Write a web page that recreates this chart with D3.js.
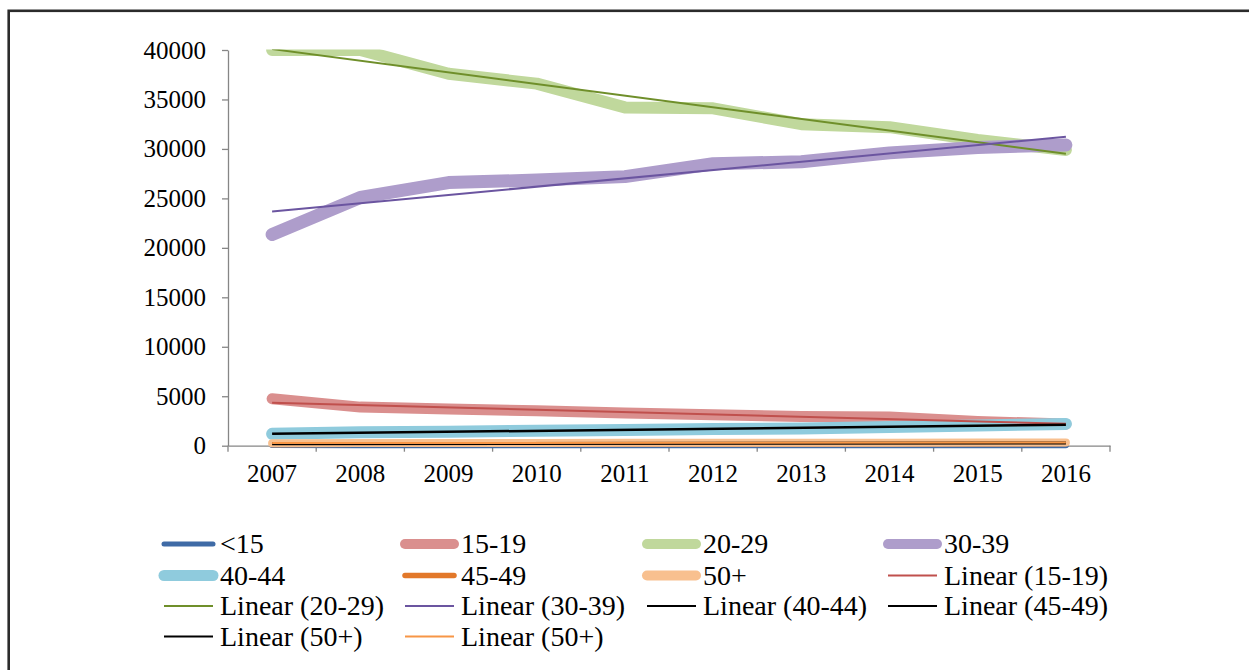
<!DOCTYPE html>
<html>
<head>
  <meta charset="UTF-8">
  <title>Births by age group</title>
  <script src="https://d3js.org/d3.v7.min.js"></script>
  <style>
    body { margin: 0; background: #fff; }
  </style>
</head>
<body>
  <div id="chart"></div>

  <script>
    const years = ["2007", "2008", "2009", "2010", "2011", "2012", "2013", "2014", "2015", "2016"];
    const yTicks = [0, 5000, 10000, 15000, 20000, 25000, 30000, 35000, 40000];

    const under15 = [60, 55, 50, 50, 45, 45, 40, 40, 40, 35];
    const age15to19 = [4750, 3900, 3700, 3530, 3300, 3130, 2960, 2900, 2450, 2190];
    const age20to29 = [40000, 40000, 37600, 36600, 34200, 34100, 32500, 32200, 30900, 29900];
    const age30to39 = [21350, 25100, 26600, 26850, 27200, 28500, 28700, 29600, 30150, 30400];
    const age40to44 = [1200, 1350, 1420, 1500, 1580, 1680, 1750, 1880, 2050, 2200];
    const age45to49 = [150, 160, 170, 175, 185, 195, 200, 210, 225, 240];
    const age50plus = [260, 270, 275, 280, 290, 295, 300, 305, 315, 320];

    const FONT = "'Liberation Serif', Tinos, 'Times New Roman', Times, 'DejaVu Serif', serif";

    // series drawn in Excel order, thick lines
    const series = [
      { name: "<15", values: under15, color: "#3f6ba6", width: 6, legendWidth: 5 },
      { name: "15-19", values: age15to19, color: "#da8f8e", width: 11, legendWidth: 10 },
      { name: "20-29", values: age20to29, color: "#c0d89c", width: 12, legendWidth: 10 },
      { name: "30-39", values: age30to39, color: "#ae9dcb", width: 13, legendWidth: 10 },
      { name: "40-44", values: age40to44, color: "#8fcbdd", width: 12, legendWidth: 11 },
      { name: "45-49", values: age45to49, color: "#e2782a", width: 6, legendWidth: 5.5 },
      { name: "50+", values: age50plus, color: "#f8c08f", width: 8, legendWidth: 10 }
    ];

    // linear trendlines (least squares over the series above)
    const trends = [
      { name: "Linear (15-19)", values: age15to19, color: "#c0504d", width: 2 },
      { name: "Linear (20-29)", values: age20to29, color: "#6f8f2a", width: 2 },
      { name: "Linear (30-39)", values: age30to39, color: "#6b55a0", width: 2 },
      { name: "Linear (40-44)", values: age40to44, color: "#000", width: 2.5 },
      { name: "Linear (45-49)", values: age45to49, color: "#000", width: 2 },
      { name: "Linear (50+)", values: age50plus, color: "#000", width: 2 },
      { name: "Linear (50+)", values: age50plus, color: "#f79646", width: 2 }
    ];

    const W = 1249, H = 670;
    const svg = d3.select("#chart").append("svg")
      .attr("width", W)
      .attr("height", H)
      .attr("font-family", FONT);

    // outer frame (runs off the right and bottom edge)
    svg.append("rect")
      .attr("x", 8.7).attr("y", 10.8)
      .attr("width", 1300).attr("height", 700)
      .attr("fill", "none")
      .attr("stroke", "#2b2b2b")
      .attr("stroke-width", 2.6);

    const x = d3.scaleBand()
      .domain(years)
      .range([228, 1110])
      .padding(0);

    const y = d3.scaleLinear()
      .domain([0, 40000])
      .range([445.7, 50]);

    const cx = d => x(d) + x.bandwidth() / 2;

    svg.append("defs").append("clipPath")
      .attr("id", "plotclip")
      .append("rect")
      .attr("x", 0).attr("y", 49.5)
      .attr("width", W).attr("height", H);

    // y axis
    const yAxis = svg.append("g")
      .attr("transform", "translate(228,0)")
      .call(d3.axisLeft(y).tickValues(yTicks).tickFormat(d3.format("d"))
        .tickSize(6).tickSizeOuter(0).tickPadding(16));
    yAxis.attr("font-family", FONT);
    yAxis.select(".domain").attr("stroke", "#868686").attr("stroke-width", 1.3);
    yAxis.selectAll(".tick line").attr("stroke", "#868686").attr("stroke-width", 1.3);
    yAxis.selectAll("text").style("font-size", "25px").attr("fill", "#000");

    // x axis: labels in band centres, ticks on band edges
    const xAxis = svg.append("g")
      .attr("transform", "translate(0,445.7)")
      .call(d3.axisBottom(x).tickSize(0).tickSizeOuter(0).tickPadding(19));
    xAxis.attr("font-family", FONT);
    xAxis.select(".domain").attr("stroke", "#868686").attr("stroke-width", 1.3);
    xAxis.selectAll("text").style("font-size", "25px").attr("fill", "#000");
    xAxis.selectAll(".edge")
      .data(d3.range(years.length + 1))
      .enter().append("line")
      .attr("class", "edge")
      .attr("x1", i => 228 + i * x.step())
      .attr("x2", i => 228 + i * x.step())
      .attr("y1", 0).attr("y2", 6)
      .attr("stroke", "#868686").attr("stroke-width", 1.3);

    const line = d3.line()
      .x((d, i) => cx(years[i]))
      .y(d => y(d));

    const plot = svg.append("g").attr("clip-path", "url(#plotclip)");

    plot.selectAll(".series")
      .data(series)
      .enter().append("path")
      .attr("class", "series")
      .attr("d", d => line(d.values))
      .attr("fill", "none")
      .attr("stroke", d => d.color)
      .attr("stroke-width", d => d.width)
      .attr("stroke-linecap", "round")
      .attr("stroke-linejoin", "round");

    function linFit(vals) {
      const n = vals.length;
      const xs = d3.range(n);
      const mx = d3.mean(xs), my = d3.mean(vals);
      const sxy = d3.sum(xs, i => (i - mx) * (vals[i] - my));
      const sxx = d3.sum(xs, i => (i - mx) * (i - mx));
      const b = sxy / sxx;
      return [my - b * mx, my + b * (n - 1 - mx)];
    }

    plot.selectAll(".trend")
      .data(trends)
      .enter().append("line")
      .attr("class", "trend")
      .attr("x1", cx(years[0]))
      .attr("x2", cx(years[years.length - 1]))
      .attr("y1", d => y(linFit(d.values)[0]))
      .attr("y2", d => y(linFit(d.values)[1]))
      .attr("stroke", d => d.color)
      .attr("stroke-width", d => d.width);

    // legend, 4 columns
    const legendItems = series.map(s => ({ name: s.name, color: s.color, width: s.legendWidth, cap: "round" }))
      .concat(trends.map(t => ({ name: t.name, color: t.color, width: 2, cap: "butt" })));
    const colX = [164, 405, 647, 888];
    const rowY = [544, 575.5, 606, 636.5];

    const legend = svg.append("g");
    const item = legend.selectAll(".item")
      .data(legendItems)
      .enter().append("g")
      .attr("transform", (d, i) => "translate(" + colX[i % 4] + "," + rowY[Math.floor(i / 4)] + ")");

    item.append("line")
      .attr("x1", 0).attr("x2", 49)
      .attr("y1", 0).attr("y2", 0)
      .attr("stroke", d => d.color)
      .attr("stroke-width", d => d.width)
      .attr("stroke-linecap", d => d.cap);

    item.append("text")
      .attr("x", 56)
      .attr("y", 9)
      .style("font-size", "28px")
      .attr("fill", "#000")
      .text(d => d.name);
  </script>
</body>
</html>
